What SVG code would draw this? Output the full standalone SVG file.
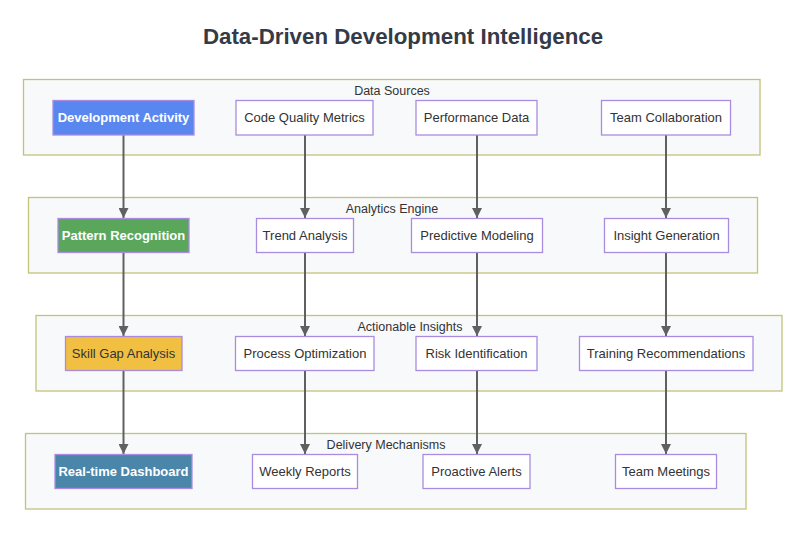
<svg xmlns="http://www.w3.org/2000/svg" width="806" height="544" viewBox="0 0 806 544">
<style>
.cl{fill:#f8f9fb;stroke:#c4c27a;stroke-width:1.3}
.cll{font-family:"Liberation Sans",Arial,sans-serif;font-size:12.5px;fill:#333;text-anchor:middle}
.n{fill:#fff;stroke:#a98ce0;stroke-width:1.3}
.t{font-family:"Liberation Sans",Arial,sans-serif;font-size:13px;fill:#333;text-anchor:middle;dominant-baseline:central}
.w{fill:#fff;font-weight:bold}
.e{stroke:#606060;stroke-width:2;fill:none;marker-end:url(#a)}
</style>
<defs>
<marker id="a" viewBox="0 0 10 10" refX="10" refY="5" markerWidth="5" markerHeight="5" orient="auto" markerUnits="strokeWidth">
<path d="M0,0 L10,5 L0,10 z" fill="#606060"/>
</marker>
</defs>
<rect width="806" height="544" fill="#fff"/>
<text x="403" y="44" font-family="'Liberation Sans',Arial,sans-serif" font-size="22.3" font-weight="bold" fill="#333a48" text-anchor="middle">Data-Driven Development Intelligence</text>

<g id="cluster-sources">
<rect class="cl" x="23.5" y="79.5" width="736.5" height="75.5"/>
<text class="cll" x="392" y="95">Data Sources</text>
</g>
<g id="cluster-analytics">
<rect class="cl" x="28.5" y="197.5" width="729" height="75.5"/>
<text class="cll" x="392" y="213">Analytics Engine</text>
</g>
<g id="cluster-insights">
<rect class="cl" x="36" y="315.5" width="746" height="75.5"/>
<text class="cll" x="410" y="331">Actionable Insights</text>
</g>
<g id="cluster-delivery">
<rect class="cl" x="25.5" y="433.5" width="720.5" height="75.5"/>
<text class="cll" x="386" y="449">Delivery Mechanisms</text>
</g>

<g id="edges">
<line class="e" x1="123.5" y1="135" x2="123.5" y2="218"/>
<line class="e" x1="305" y1="135" x2="305" y2="218"/>
<line class="e" x1="477" y1="135" x2="477" y2="218"/>
<line class="e" x1="666" y1="135" x2="666" y2="218"/>
<line class="e" x1="123.5" y1="252.5" x2="123.5" y2="336"/>
<line class="e" x1="305" y1="252.5" x2="305" y2="336"/>
<line class="e" x1="477" y1="252.5" x2="477" y2="336"/>
<line class="e" x1="666" y1="252.5" x2="666" y2="336"/>
<line class="e" x1="123.5" y1="371" x2="123.5" y2="454"/>
<line class="e" x1="305" y1="371" x2="305" y2="454"/>
<line class="e" x1="477" y1="371" x2="477" y2="454"/>
<line class="e" x1="666" y1="371" x2="666" y2="454"/>
</g>

<g id="dev-activity"><rect class="n" x="53" y="100.5" width="141" height="34.5" style="fill:#5a87ef"/><text class="t w" x="123.5" y="117.5">Development Activity</text></g>
<g id="code-quality"><rect class="n" x="236" y="100.5" width="137" height="34.5"/><text class="t" x="304.5" y="117.5">Code Quality Metrics</text></g>
<g id="performance"><rect class="n" x="416" y="100.5" width="121" height="34.5"/><text class="t" x="476.5" y="117.5">Performance Data</text></g>
<g id="team-collab"><rect class="n" x="601.5" y="100.5" width="129" height="34.5"/><text class="t" x="666" y="117.5">Team Collaboration</text></g>

<g id="pattern"><rect class="n" x="58" y="218.5" width="131" height="34" style="fill:#5aa75c"/><text class="t w" x="123.5" y="235.5">Pattern Recognition</text></g>
<g id="trend"><rect class="n" x="256.5" y="218.5" width="97" height="34"/><text class="t" x="305" y="235.5">Trend Analysis</text></g>
<g id="predictive"><rect class="n" x="411.5" y="218.5" width="131" height="34"/><text class="t" x="477" y="235.5">Predictive Modeling</text></g>
<g id="insight-gen"><rect class="n" x="604.5" y="218.5" width="124" height="34"/><text class="t" x="666.5" y="235.5">Insight Generation</text></g>

<g id="skill-gap"><rect class="n" x="65.5" y="336.5" width="116.5" height="34" style="fill:#f1bf42"/><text class="t" x="123.5" y="353.5">Skill Gap Analysis</text></g>
<g id="process-opt"><rect class="n" x="235.5" y="336.5" width="138.5" height="34"/><text class="t" x="305" y="353.5">Process Optimization</text></g>
<g id="risk"><rect class="n" x="416" y="336.5" width="121" height="34"/><text class="t" x="476.5" y="353.5">Risk Identification</text></g>
<g id="training"><rect class="n" x="579.5" y="336.5" width="173.5" height="34"/><text class="t" x="666" y="353.5">Training Recommendations</text></g>

<g id="dashboard"><rect class="n" x="55" y="454.5" width="137" height="34" style="fill:#4a86aa"/><text class="t w" x="123.5" y="471.5">Real-time Dashboard</text></g>
<g id="weekly"><rect class="n" x="252.5" y="454.5" width="105" height="34"/><text class="t" x="305" y="471.5">Weekly Reports</text></g>
<g id="alerts"><rect class="n" x="423" y="454.5" width="107" height="34"/><text class="t" x="476.5" y="471.5">Proactive Alerts</text></g>
<g id="meetings"><rect class="n" x="615.5" y="454.5" width="101" height="34"/><text class="t" x="666" y="471.5">Team Meetings</text></g>
</svg>
